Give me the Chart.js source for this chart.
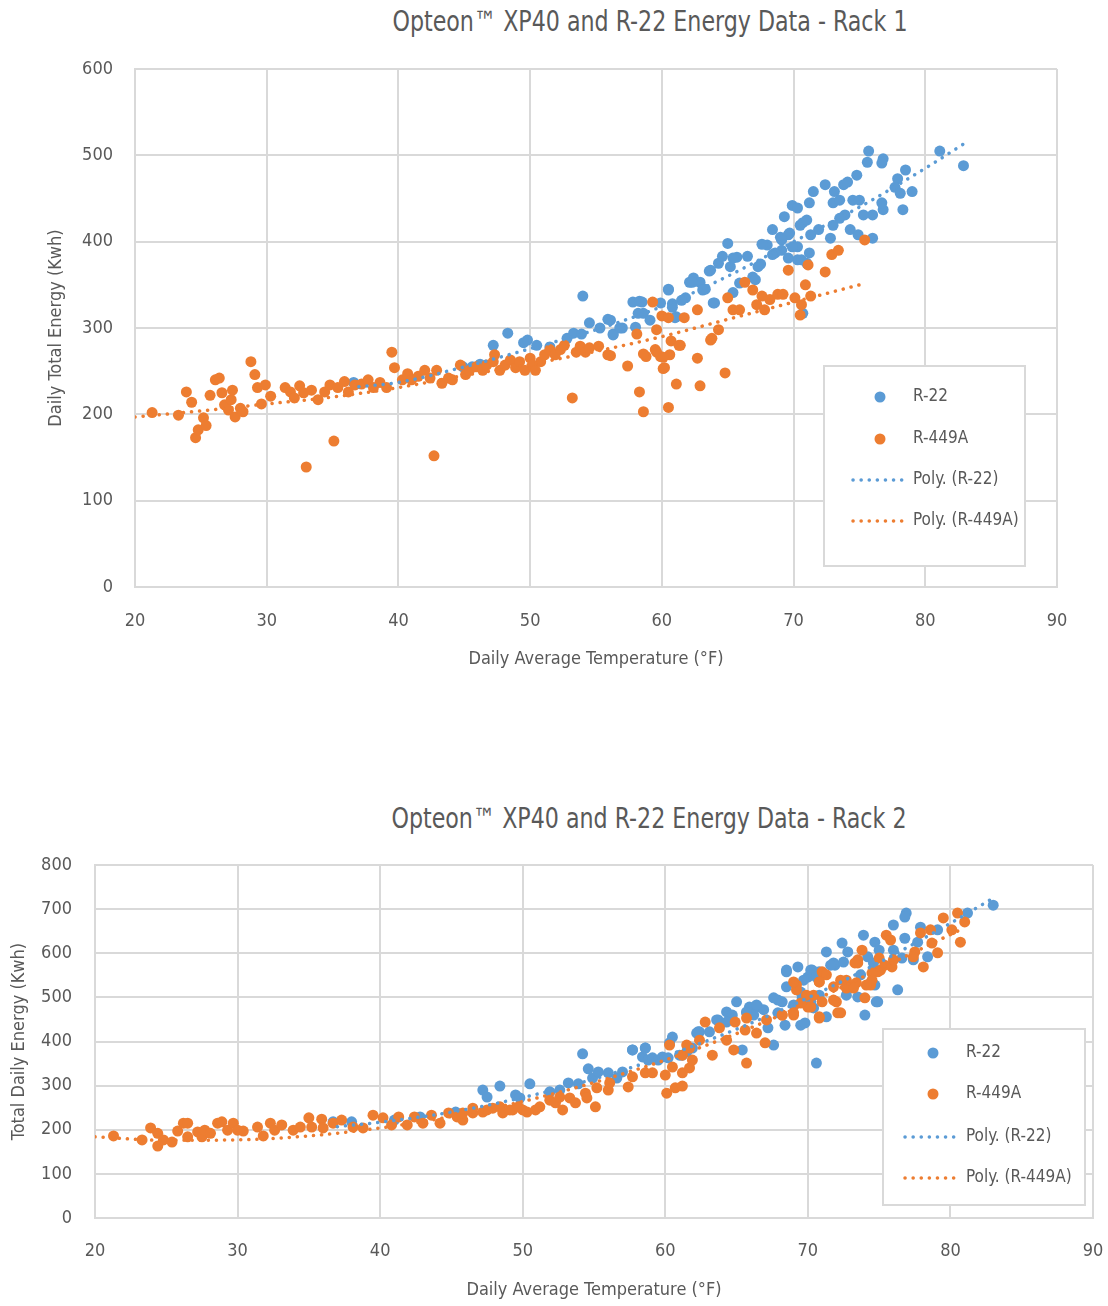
<!DOCTYPE html>
<html>
<head>
<meta charset="utf-8">
<script src="https://cdn.jsdelivr.net/npm/chart.js@4.4.0/dist/chart.umd.min.js"></script>
<style>
  body { margin: 0; background: #fff; width: 1108px; height: 1306px; position: relative; overflow: hidden;
         font-family: 'Liberation Sans Narrow', 'DejaVu Sans Condensed', sans-serif; }
  .title { position: absolute; transform: translateX(-50%) scaleX(0.88); white-space: nowrap; font-size: 28px; color: #595959; line-height: 1; }
  canvas { position: absolute; left: 0; }
</style>
</head>
<body>
<div class="title" style="left:650px; top:8px">Opteon™ XP40 and R-22 Energy Data - Rack 1</div>
<canvas id="rack1" width="1108" height="700" style="top:0"></canvas>
<div class="title" style="left:649px; top:805px">Opteon™ XP40 and R-22 Energy Data - Rack 2</div>
<canvas id="rack2" width="1108" height="546" style="top:760px"></canvas>
<script>
// [daily avg temp °F, daily energy kWh]
const rack1R22 = [
  [36.6,237],[44.9,255],[45.6,255],[46.2,258],[47.2,280],[48.3,294],[49.5,283],[49.8,286],[50.5,280],[51.5,278],
  [52.8,288],[53.3,294],[53.9,293],[54.0,337],[54.5,306],[55.3,300],[55.9,310],[56.3,293],[57.0,300],[57.8,330],
  [58.0,301],[58.3,331],[58.6,317],[59.1,309],[59.9,329],[60.5,345],[60.8,328],[61.1,313],[61.8,335],[62.1,353],
  [62.4,358],[62.9,353],[63.3,345],[63.6,366],[63.9,329],[64.3,375],[64.6,383],[65.0,398],[65.2,371],[65.7,382],
  [65.9,352],[66.5,383],[66.9,359],[67.5,374],[68.0,396],[68.4,414],[68.6,387],[69.0,405],[69.7,410],[70.3,394],
  [70.7,422],[70.7,317],[71.2,387],[71.0,375],[75.7,505],[75.6,492],[76.8,496],[76.7,491],[78.5,483],[77.9,473],
  [79.0,458],[77.7,463],[78.1,456],[78.3,437],[76.8,437],[76.7,445],[76.0,431],[75.3,431],[74.8,477],[74.1,469],
  [73.8,466],[73.1,458],[72.4,466],[71.5,458],[71.2,445],[69.9,442],[70.3,439],[69.3,429],[73.0,445],[73.5,448],
  [74.5,448],[75.0,448],[73.9,431],[73.5,427],[74.3,414],[74.9,408],[76.0,404],[73.0,419],[72.8,404],[71.9,414],
  [71.3,408],[70.5,419],[71.0,425],[69.6,408],[69.1,402],[67.6,397],[68.4,385],[69.1,390],[69.9,394],[70.3,379],
  [70.6,379],[69.6,381],[67.3,371],[65.4,381],[67.1,356],[65.4,341],[63.7,367],[63.1,344],[62.3,353],[60.5,344],
  [61.5,332],[60.8,324],[58.5,330],[58.2,317],[61.0,312],[64.0,329],[56.1,309],[56.8,300],[56.3,292],[82.9,488],
  [81.1,505]
];
const rack1R449A = [
  [21.3,202],[23.3,199],[23.9,226],[24.3,214],[24.6,173],[24.8,182],[25.2,196],[25.4,187],[25.7,222],[26.1,240],
  [26.4,242],[26.6,225],[26.8,211],[27.1,205],[27.3,217],[27.4,228],[27.6,197],[28.0,207],[28.2,203],[28.8,261],
  [29.1,246],[29.3,231],[29.6,212],[29.9,234],[30.3,221],[31.4,231],[31.8,226],[32.1,219],[32.5,233],[32.8,225],
  [33.0,139],[33.4,228],[33.9,217],[34.4,226],[34.8,234],[35.1,169],[35.4,231],[35.9,238],[36.2,226],[36.7,234],
  [37.2,235],[37.7,240],[38.1,231],[38.6,237],[39.1,231],[39.5,272],[39.7,254],[40.3,240],[40.7,247],[41.0,240],
  [41.5,244],[42.0,251],[42.4,242],[42.7,152],[42.9,251],[43.3,236],[43.8,242],[44.1,240],[44.7,257],[45.1,246],
  [45.4,251],[45.9,255],[46.4,251],[46.7,257],[47.2,261],[47.3,269],[47.7,251],[48.1,257],[48.5,263],[48.9,254],
  [49.2,261],[49.6,251],[50.0,265],[50.2,257],[50.4,251],[50.8,261],[51.1,269],[51.5,275],[51.9,269],[52.3,275],
  [52.6,280],[53.2,219],[53.5,272],[53.8,279],[54.2,272],[54.5,277],[55.2,279],[55.9,269],[57.4,256],[58.1,293],
  [58.3,226],[58.6,203],[58.8,267],[59.3,330],[59.5,275],[59.6,298],[59.9,267],[60.0,314],[60.2,254],[60.5,312],
  [60.5,208],[60.6,269],[61.1,235],[61.4,280],[61.7,312],[62.7,265],[62.7,321],[62.9,233],[63.7,286],[64.3,298],
  [64.8,248],[65.0,335],[65.4,321],[65.9,321],[66.3,353],[66.9,344],[67.2,327],[67.6,337],[67.8,321],[68.2,333],
  [68.8,339],[69.2,339],[69.6,367],[70.1,335],[70.5,315],[70.6,327],[70.9,350],[71.1,373],[71.3,337],[72.4,365],
  [72.9,385],[73.4,390],[75.4,402],[59.6,272],[60.1,253],[60.7,285],[61.3,280],[63.8,288],[56.1,268],[58.6,270],
  [60.1,266]
];
const rack1R22Trend = [[37,232],[40,237],[45,255],[50,276],[55,298],[60,325],[65,360],[70,400],[75,440],[80,485],[83,514]];
const rack1R449ATrend = [[20,197],[25,204],[30,212],[35,220],[40,231],[45,245],[50,258],[55,273],[60,290],[65,310],[70,330],[75.5,352]];

const rack2R22 = [
  [36.7,218],[38.0,218],[41.0,222],[42.8,229],[45.3,240],[47.2,290],[47.5,274],[48.4,299],[49.5,279],[49.8,272],
  [50.5,304],[51.9,286],[52.6,290],[53.2,306],[53.9,304],[54.2,372],[54.6,338],[54.9,317],[55.3,331],[56.0,329],
  [56.6,317],[57.0,331],[57.7,381],[58.4,365],[58.6,385],[58.8,358],[59.1,363],[59.5,358],[59.8,365],[60.2,363],
  [60.5,410],[61.2,369],[61.9,385],[62.2,419],[62.4,422],[63.7,449],[64.3,467],[65.0,490],[65.4,381],[65.9,478],
  [66.2,460],[66.5,478],[66.9,472],[67.2,431],[67.6,392],[67.9,494],[68.4,437],[69.0,483],[69.5,437],[69.6,499],
  [69.8,442],[70.2,490],[70.6,351],[71.3,456],[70.8,558],[68.5,558],[69.3,569],[70.3,562],[70.0,546],[71.9,573],
  [72.5,580],[74.0,460],[74.9,490],[74.7,528],[76.3,517],[72.7,524],[73.5,501],[67.9,465],[65.7,467],[83.0,709],
  [81.2,691],[76.9,691],[76.8,682],[76.0,664],[77.9,659],[79.1,653],[77.7,625],[76.8,634],[74.7,625],[73.9,641],
  [72.4,623],[71.3,603],[75.0,607],[76.0,607],[76.6,589],[78.4,592],[77.4,585],[72.8,603],[74.2,592],[74.6,578],
  [71.8,578],[71.6,573],[70.2,562],[68.5,562],[70.6,546],[69.7,539],[73.7,551],[74.4,533],[74.8,490],[72.7,505],
  [70.8,505],[70.4,476],[69.5,512],[68.5,524],[67.6,499],[68.2,490],[66.4,483],[65.7,465],[64.7,460],[63.6,449],
  [64.3,444],[62.3,422],[63.1,422],[60.3,397],[61.5,376],[61.0,369],[57.7,381],[58.6,385]
];
const rack2R449A = [
  [21.3,186],[23.3,177],[23.9,204],[24.4,192],[24.4,163],[24.8,177],[25.4,172],[25.8,197],[26.2,215],[26.5,215],
  [26.5,184],[27.2,195],[27.5,184],[27.7,199],[28.1,192],[28.6,215],[28.9,218],[29.3,199],[29.7,215],[30.0,199],
  [30.4,197],[31.4,206],[31.8,186],[32.3,215],[32.6,199],[33.1,211],[33.9,199],[34.4,206],[35.0,227],[35.2,206],
  [35.9,224],[36.0,204],[36.7,215],[37.3,222],[38.1,206],[38.8,204],[39.5,233],[40.2,227],[40.8,211],[41.3,229],
  [41.9,211],[42.4,229],[43.0,215],[43.6,233],[44.2,215],[44.8,238],[45.4,229],[45.8,222],[46.5,238],[47.2,240],
  [47.9,249],[48.6,238],[49.3,245],[50.0,245],[45.8,238],[46.5,249],[47.5,245],[48.4,252],[49.1,245],[49.7,252],
  [50.3,240],[50.9,245],[51.2,252],[51.9,267],[52.3,261],[52.6,274],[52.8,245],[53.3,272],[53.7,261],[54.4,283],
  [54.5,272],[55.1,252],[55.2,295],[56.0,290],[56.1,306],[57.4,297],[57.7,320],[58.6,329],[59.1,329],[60.0,324],
  [60.5,342],[61.2,329],[61.7,340],[61.9,358],[60.1,283],[60.7,295],[61.2,299],[60.3,392],[61.2,369],[61.7,385],
  [61.5,392],[62.4,403],[62.8,444],[63.3,369],[63.8,431],[64.3,403],[64.8,381],[64.9,444],[65.6,426],[65.7,453],
  [65.7,351],[66.4,419],[67.0,397],[67.1,449],[68.2,460],[69.0,460],[69.2,528],[70.0,478],[70.8,453],[70.8,535],
  [71.0,558],[72.0,490],[72.3,465],[72.7,535],[73.5,578],[74.0,499],[74.4,528],[75.1,562],[75.9,569],[80.5,691],
  [79.5,680],[81.0,671],[80.1,653],[80.7,625],[78.6,653],[77.9,646],[78.7,623],[79.1,601],[78.1,569],[77.5,603],
  [77.4,592],[76.0,585],[75.5,641],[75.8,630],[75.4,573],[74.9,558],[74.5,555],[73.8,607],[73.5,585],[73.3,578],
  [75.0,589],[74.5,539],[74.1,528],[73.4,533],[72.7,539],[72.7,521],[73.2,521],[72.3,539],[71.8,524],[71.3,551],
  [70.8,535],[70.4,505],[71.0,490],[71.8,494],[72.1,465],[70.8,456],[70.2,478],[69.9,505],[69.2,517],[69.0,535],
  [69.5,487],[68.2,460],[69.0,465]
];
const rack2R22Trend = [[37,207],[40,217],[45,240],[50,273],[55,315],[60,367],[65,428],[70,499],[75,579],[80,668],[83,725]];
const rack2R449ATrend = [[20,184],[25,176],[30,177],[35,186],[40,204],[45,230],[50,264],[55,307],[60,358],[65,418],[70,487],[75,564],[81,658]];

const xTicks = { min: 20, max: 90, step: 10 };

const blue = '#5B9BD5';
const orange = '#ED7D31';
const textGrey = '#595959';
const gridGrey = '#d9d9d9';
const fontFamily = "'Liberation Sans Narrow', 'DejaVu Sans Condensed', sans-serif";

Chart.defaults.font.family = fontFamily;
Chart.defaults.color = textGrey;

const toXY = arr => arr.map(p => ({ x: p[0], y: p[1] }));

// legend drawn as a box inside the plot, like the Excel original
const boxLegend = {
  id: 'boxLegend',
  afterDatasetsDraw(chart, args, o) {
    const { ctx, chartArea } = chart;
    const left = chartArea.right - o.right;
    const top = chartArea.top + o.top;
    ctx.save();
    ctx.fillStyle = '#fff';
    ctx.fillRect(left, top, o.width, o.height);
    ctx.strokeStyle = gridGrey;
    ctx.lineWidth = 2;
    ctx.strokeRect(left, top, o.width, o.height);
    ctx.font = '17px ' + fontFamily;
    ctx.textBaseline = 'middle';
    chart.data.datasets.forEach((ds, i) => {
      const y = top + o.rows[i];
      if (ds.type === 'line') {
        ctx.strokeStyle = ds.borderColor;
        ctx.lineWidth = 3.5;
        ctx.lineCap = 'round';
        ctx.setLineDash([0.1, 8]);
        ctx.beginPath();
        ctx.moveTo(left + o.lineFrom, y);
        ctx.lineTo(left + o.lineTo, y);
        ctx.stroke();
        ctx.setLineDash([]);
      } else {
        ctx.fillStyle = ds.backgroundColor;
        ctx.beginPath();
        ctx.arc(left + o.marker, y, 5.5, 0, Math.PI * 2);
        ctx.fill();
      }
      ctx.fillStyle = textGrey;
      ctx.fillText(ds.label, left + o.text, y);
    });
    ctx.restore();
  }
};

function makeChart(id, r22, r449, r22Trend, r449Trend, yTitle, yMax, axis, legend) {
  const pts = (label, data, color, order) => ({
    label, data: toXY(data), backgroundColor: color, borderColor: color,
    pointRadius: 5.5, pointBorderWidth: 0, order
  });
  const trend = (label, data, color, order) => ({
    type: 'line', label, data: toXY(data), borderColor: color, borderWidth: 3.5,
    borderDash: [0.1, 8], borderCapStyle: 'round', pointRadius: 0, fill: false,
    cubicInterpolationMode: 'monotone', order
  });
  return new Chart(document.getElementById(id), {
    type: 'scatter',
    data: {
      datasets: [
        pts('R-22', r22, blue, 4),
        pts('R-449A', r449, orange, 3),
        trend('Poly. (R-22)', r22Trend, blue, 2),
        trend('Poly. (R-449A)', r449Trend, orange, 1)
      ]
    },
    options: {
      responsive: false,
      animation: false,
      layout: { padding: { top: axis.top, right: axis.right, left: 0, bottom: 0 } },
      plugins: { legend: { display: false }, tooltip: { enabled: false }, boxLegend: legend },
      scales: {
        x: {
          type: 'linear', min: xTicks.min, max: xTicks.max,
          ticks: { stepSize: xTicks.step, padding: axis.xTickPad, font: { size: 18 }, color: textGrey },
          grid: { color: gridGrey, lineWidth: 2, drawTicks: false },
          border: { color: gridGrey, width: 2 },
          title: { display: true, text: 'Daily Average Temperature (°F)', font: { size: 18 }, color: textGrey,
                   padding: { top: 0, bottom: axis.xTitlePad } },
          afterFit: s => { s.height = axis.xHeight; s.paddingLeft = 0; s.paddingRight = 0; }
        },
        y: {
          min: 0, max: yMax,
          ticks: { stepSize: 100, padding: axis.yTickPad, font: { size: 18 }, color: textGrey },
          grid: { color: gridGrey, lineWidth: 2, drawTicks: false },
          border: { color: gridGrey, width: 2 },
          title: { display: true, text: yTitle, font: { size: 18 }, color: textGrey,
                   padding: { top: axis.yTitlePad, bottom: 0 } },
          afterFit: s => { s.width = axis.yWidth; }
        }
      }
    },
    plugins: [boxLegend]
  });
}

makeChart('rack1', rack1R22, rack1R449A, rack1R22Trend, rack1R449ATrend,
  'Daily Total Energy (Kwh)', 600,
  { top: 69, right: 51, xHeight: 113, xTickPad: 24, xTitlePad: 30, yWidth: 135, yTickPad: 22, yTitlePad: 46 },
  { right: 233, top: 297, width: 201, height: 200, rows: [31, 73, 114, 155],
    marker: 56, text: 89, lineFrom: 29, lineTo: 83 });

makeChart('rack2', rack2R22, rack2R449A, rack2R22Trend, rack2R449ATrend,
  'Total Daily Energy (Kwh)', 800,
  { top: 105, right: 15, xHeight: 88, xTickPad: 23, xTitlePad: 5, yWidth: 95, yTickPad: 23, yTitlePad: 9 },
  { right: 210, top: 164, width: 202, height: 176, rows: [24, 65, 108, 149],
    marker: 50, text: 83, lineFrom: 22, lineTo: 77 });
</script>
</body>
</html>
